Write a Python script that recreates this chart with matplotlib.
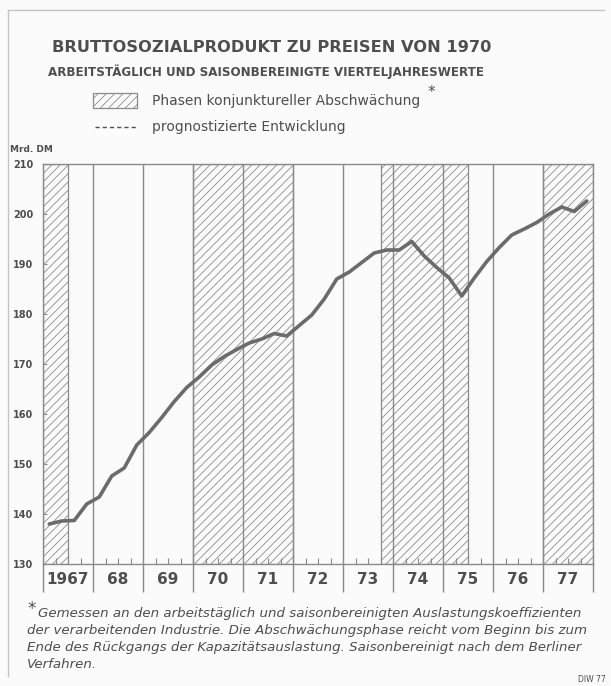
import matplotlib
matplotlib.use("Agg")
import matplotlib.pyplot as plt
from matplotlib.patches import Rectangle
from matplotlib.lines import Line2D
import matplotlib.transforms as mtransforms

# ---------------- data ----------------
years = list(range(1967, 1978))
year_labels = ["1967", "68", "69", "70", "71", "72", "73", "74", "75", "76", "77"]
gnp = [
    138.0, 138.6, 138.7, 142.0,   # 1967
    143.4, 147.6, 149.2, 153.8,   # 1968
    156.3, 159.3, 162.5, 165.3,   # 1969
    167.4, 169.8, 171.5, 172.9,   # 1970
    174.2, 175.0, 176.1, 175.6,   # 1971
    177.7, 179.8, 183.0, 187.0,   # 1972
    188.4, 190.3, 192.2, 192.8,   # 1973
    192.8, 194.5, 191.6, 189.3,   # 1974
    187.2, 183.6, 187.2, 190.5,   # 1975
    193.3, 195.8, 197.0, 198.3,   # 1976
    200.0, 201.4, 200.5, 202.6,   # 1977
]
weak_phases = [(1967.0, 1967.5), (1970.0, 1972.0), (1973.75, 1975.5), (1977.0, 1978.0)]
y_ticks = [130, 140, 150, 160, 170, 180, 190, 200, 210]

TXT = "#4e4e4e"
GRID = "#8a8a8a"
LINE = "#6b6b6b"
BG = "#fbfbfb"

plt.rcParams["font.family"] = ["DejaVu Sans"]
plt.rcParams["hatch.color"] = "#9a9a9a"
plt.rcParams["hatch.linewidth"] = 0.6

fig = plt.figure(figsize=(6.11, 6.86), dpi=100, facecolor=BG)
W, H = 611, 686
ax = fig.add_axes([43 / W, 1 - 564 / H, 550 / W, 400 / H], facecolor=BG)

x = [years[0] + (i + 0.5) / 4 for i in range(len(gnp))]

# hatched phases
for a, b in weak_phases:
    ax.add_patch(Rectangle((a, 130), b - a, 80, facecolor="none", edgecolor=GRID,
                           hatch="////", linewidth=0.9, zorder=1))
# year separators
for yr in years[1:]:
    ax.axvline(yr, color=GRID, lw=1.0, zorder=2)

ax.plot(x, gnp, color=LINE, lw=2.6, solid_capstyle="round", solid_joinstyle="round", zorder=5)

ax.set_xlim(1967, 1978)
ax.set_ylim(130, 210)
for s in ax.spines.values():
    s.set_color(GRID)
    s.set_linewidth(1.0)

ax.set_yticks(y_ticks)
ax.set_yticklabels([str(v) for v in y_ticks], fontsize=7, fontweight="bold", color=TXT)
ax.tick_params(axis="y", direction="in", length=3, width=0.8, color=GRID, pad=7)

# x axis: year boundaries with long outward ticks, quarter ticks inward
ax.set_xticks(years + [1978])
ax.set_xticklabels([])
ax.tick_params(axis="x", which="major", direction="out", length=20, width=1.0, color=GRID)
ax.set_xticks([yr + q / 4 for yr in years for q in (1, 2, 3)], minor=True)
ax.tick_params(axis="x", which="minor", direction="in", length=4, width=0.8, color=GRID)

trans = mtransforms.blended_transform_factory(ax.transData, ax.transAxes)
for yr, lab in zip(years, year_labels):
    ax.text(yr + 0.5, -0.04, lab, transform=trans, ha="center", va="center",
            fontsize=11, fontweight="bold", color=TXT)

# titles
fig.text(0.5 * (50 + 493) / W, 1 - 47 / H, "BRUTTOSOZIALPRODUKT ZU PREISEN VON 1970",
         ha="center", va="center", fontsize=11.7, fontweight="bold", color=TXT)
fig.text(0.5 * (30 + 502) / W, 1 - 72 / H,
         "ARBEITSTÄGLICH UND SAISONBEREINIGTE VIERTELJAHRESWERTE",
         ha="center", va="center", fontsize=8.6, fontweight="bold", color=TXT)

# legend
fig.patches.append(Rectangle((93 / W, 1 - 108 / H), 44 / W, 15 / H, transform=fig.transFigure,
                             facecolor="none", edgecolor=GRID, hatch="////", linewidth=0.9))
fig.text(152 / W, 1 - 101 / H, "Phasen konjunktureller Abschwächung", ha="left", va="center",
         fontsize=10, color=TXT)
fig.text(428 / W, 1 - 93 / H, "*", ha="left", va="center", fontsize=11, color=TXT)
fig.lines.append(Line2D([95 / W, 138 / W], [1 - 127 / H, 1 - 127 / H], transform=fig.transFigure,
                        color=TXT, lw=1.0, linestyle=(0, (3, 2.2))))
fig.text(152 / W, 1 - 127 / H, "prognostizierte Entwicklung", ha="left", va="center",
         fontsize=10, color=TXT)

fig.text(10 / W, 1 - 149 / H, "Mrd. DM", ha="left", va="center", fontsize=6.5,
         fontweight="bold", color=TXT)

# footnote
foot = ["Gemessen an den arbeitstäglich und saisonbereinigten Auslastungskoeffizienten",
        "der verarbeitenden Industrie. Die Abschwächungsphase reicht vom Beginn bis zum",
        "Ende des Rückgangs der Kapazitätsauslastung. Saisonbereinigt nach dem Berliner",
        "Verfahren."]
fig.text(27 / W, 1 - 609 / H, "*", ha="left", va="center", fontsize=12, color=TXT)
for i, line in enumerate(foot):
    x0 = 38 if i == 0 else 27
    fig.text(x0 / W, 1 - (613 + 17.3 * i) / H, line, ha="left", va="center",
             fontsize=9.6, style="italic", color=TXT)
fig.text(606 / W, 1 - 679 / H, "DIW 77", ha="right", va="center", fontsize=5.5, color=TXT)

# frame
fig.lines.append(Line2D([8 / W, 8 / W], [1 - 676 / H, 1 - 10 / H], transform=fig.transFigure,
                        color="#c4c4c4", lw=1.0))
fig.lines.append(Line2D([8 / W, 604 / W], [1 - 10 / H, 1 - 10 / H], transform=fig.transFigure,
                        color="#c4c4c4", lw=1.0))

fig.savefig("out.png", dpi=100, facecolor=BG)
